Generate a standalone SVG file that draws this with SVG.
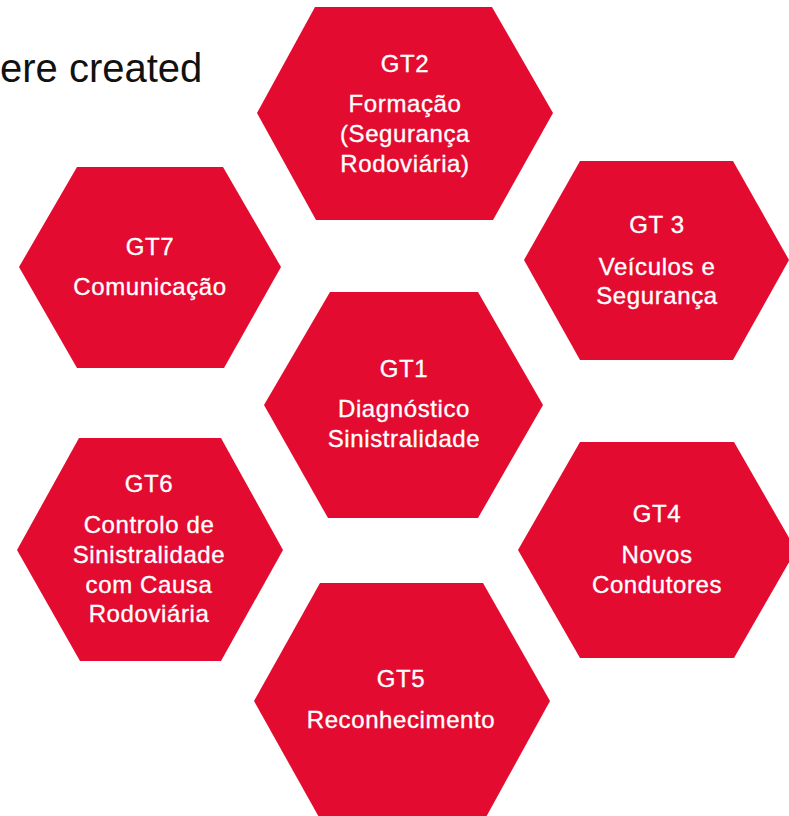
<svg xmlns="http://www.w3.org/2000/svg" width="789" height="816" viewBox="0 0 789 816">
<style>
.hex{fill:#E30B2F;}
.t{fill:#ffffff;stroke:#ffffff;stroke-width:0.35;font-family:"Liberation Sans",Arial,sans-serif;font-size:24px;text-anchor:middle;letter-spacing:0.6px;}
.title{fill:#111111;font-family:"Liberation Sans",Arial,sans-serif;font-size:40px;}
</style>
<rect width="789" height="816" fill="#ffffff"/>
<text class="title" x="0" y="82">ere created</text>
<g id="connectors"></g>
<g id="gt2">
<polygon class="hex" points="315,7 492,7 553,113 493,220 316,220 257,113"/>
<text class="t" x="405" y="72">GT2</text>
<text class="t" x="405" y="112">Formação</text>
<text class="t" x="405" y="142">(Segurança</text>
<text class="t" x="405" y="172">Rodoviária)</text>
</g>
<g id="gt3">
<polygon class="hex" points="580,161 733,161 789,260 733,360 580,360 524,260"/>
<text class="t" x="657" y="233">GT 3</text>
<text class="t" x="657" y="275">Veículos e</text>
<text class="t" x="657" y="304">Segurança</text>
</g>
<g id="gt7">
<polygon class="hex" points="77,167 223,167 281,267 224,368 77,368 19,267"/>
<text class="t" x="150" y="255">GT7</text>
<text class="t" x="150" y="295">Comunicação</text>
</g>
<g id="gt1">
<polygon class="hex" points="330,292 478,292 543,405 478,518 328,518 264,405"/>
<text class="t" x="404" y="377">GT1</text>
<text class="t" x="404" y="417">Diagnóstico</text>
<text class="t" x="404" y="447">Sinistralidade</text>
</g>
<g id="gt6">
<polygon class="hex" points="79,438 221,438 283,550 221,661 80,661 17,550"/>
<text class="t" x="149" y="492">GT6</text>
<text class="t" x="149" y="533">Controlo de</text>
<text class="t" x="149" y="563">Sinistralidade</text>
<text class="t" x="149" y="593">com Causa</text>
<text class="t" x="149" y="622">Rodoviária</text>
</g>
<g id="gt4">
<polygon class="hex" points="580,442 734,442 796,550 734,658 580,658 518,550"/>
<text class="t" x="657" y="522">GT4</text>
<text class="t" x="657" y="563">Novos</text>
<text class="t" x="657" y="593">Condutores</text>
</g>
<g id="gt5">
<polygon class="hex" points="320,583 483,583 550,701 485,819 320,819 254,701"/>
<text class="t" x="401" y="687">GT5</text>
<text class="t" x="401" y="728">Reconhecimento</text>
</g>
</svg>
